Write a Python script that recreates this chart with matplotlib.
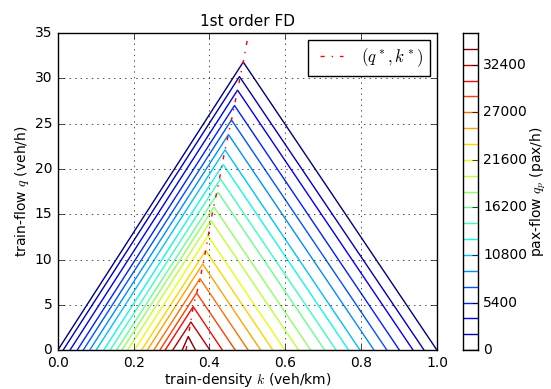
import matplotlib
matplotlib.use('Agg')
import matplotlib.pyplot as plt

plt.style.use('classic')

# pax-flow levels (pax/h), one triangle each
levels = [0, 1800, 3600, 5400, 7200, 9000, 10800, 12600, 14400, 16200,
          18000, 19800, 21600, 23400, 25200, 27000, 28800, 30600, 32400, 34200]
# triangle corners
k_left = [0.000, 0.014, 0.032, 0.051, 0.067, 0.084, 0.101, 0.121, 0.138, 0.155,
          0.169, 0.184, 0.202, 0.221, 0.236, 0.253, 0.269, 0.283, 0.303, 0.328]
k_peak = [0.489, 0.479, 0.474, 0.466, 0.458, 0.450, 0.441, 0.436, 0.429, 0.423,
          0.412, 0.404, 0.396, 0.390, 0.382, 0.375, 0.366, 0.357, 0.351, 0.344]
q_peak = [31.8, 30.2, 28.7, 27.0, 25.4, 23.8, 22.1, 20.5, 18.9, 17.4,
          15.8, 14.3, 12.6, 11.0, 9.5, 7.9, 6.3, 4.8, 3.1, 1.5]
k_right = [1.000, 0.966, 0.937, 0.901, 0.868, 0.834, 0.797, 0.767, 0.734, 0.704,
           0.667, 0.635, 0.599, 0.567, 0.535, 0.502, 0.468, 0.434, 0.401, 0.363]

# critical point curve (q*, k*)
k_star = [0.338, 0.344, 0.357, 0.373, 0.390, 0.404, 0.423, 0.438, 0.458, 0.474, 0.489, 0.500]
q_star = [0.0, 1.5, 4.8, 7.4, 11.0, 14.4, 18.2, 21.5, 25.4, 28.7, 31.8, 34.3]

cb_ticks = [0, 5400, 10800, 16200, 21600, 27000, 32400]

cmap = plt.cm.jet
vmax = max(levels)

fig = plt.figure(figsize=(5.51, 3.89), dpi=100, facecolor='white')
ax = fig.add_axes([0.105, 0.1, 0.688, 0.815])

for i, lv in enumerate(levels):
    ax.plot([k_left[i], k_peak[i], k_right[i]], [0, q_peak[i], 0],
            color=cmap(lv / vmax), lw=1)

ax.plot(k_star, q_star, 'r-.', lw=1, label=r'$(q^*,k^*)$')

ax.set_xlim(0, 1)
ax.set_ylim(0, 35)
ax.set_xticks([0.0, 0.2, 0.4, 0.6, 0.8, 1.0])
ax.set_yticks(range(0, 36, 5))
ax.tick_params(labelsize=10)
ax.grid(True)
ax.set_title('1st order FD', fontsize=11)
ax.set_xlabel(r'train-density $k$ (veh/km)', fontsize=10, labelpad=1)
ax.set_ylabel(r'train-flow $q$ (veh/h)', fontsize=10, labelpad=3)
ax.legend(loc='upper right', fontsize=12, borderaxespad=0.4)

# colorbar with contour lines
cax = fig.add_axes([0.840, 0.1, 0.027, 0.815])
for lv in levels:
    cax.axhline(lv, color=cmap(lv / vmax), lw=1)
cax.set_ylim(0, 36000)
cax.set_xticks([])
cax.yaxis.tick_right()
cax.set_yticks(cb_ticks)
cax.tick_params(labelsize=10)
cax.yaxis.set_label_position('right')
cax.set_ylabel(r'pax-flow $q_p$ (pax/h)', fontsize=10, labelpad=1)

fig.savefig('out.png', dpi=100, facecolor='white')
